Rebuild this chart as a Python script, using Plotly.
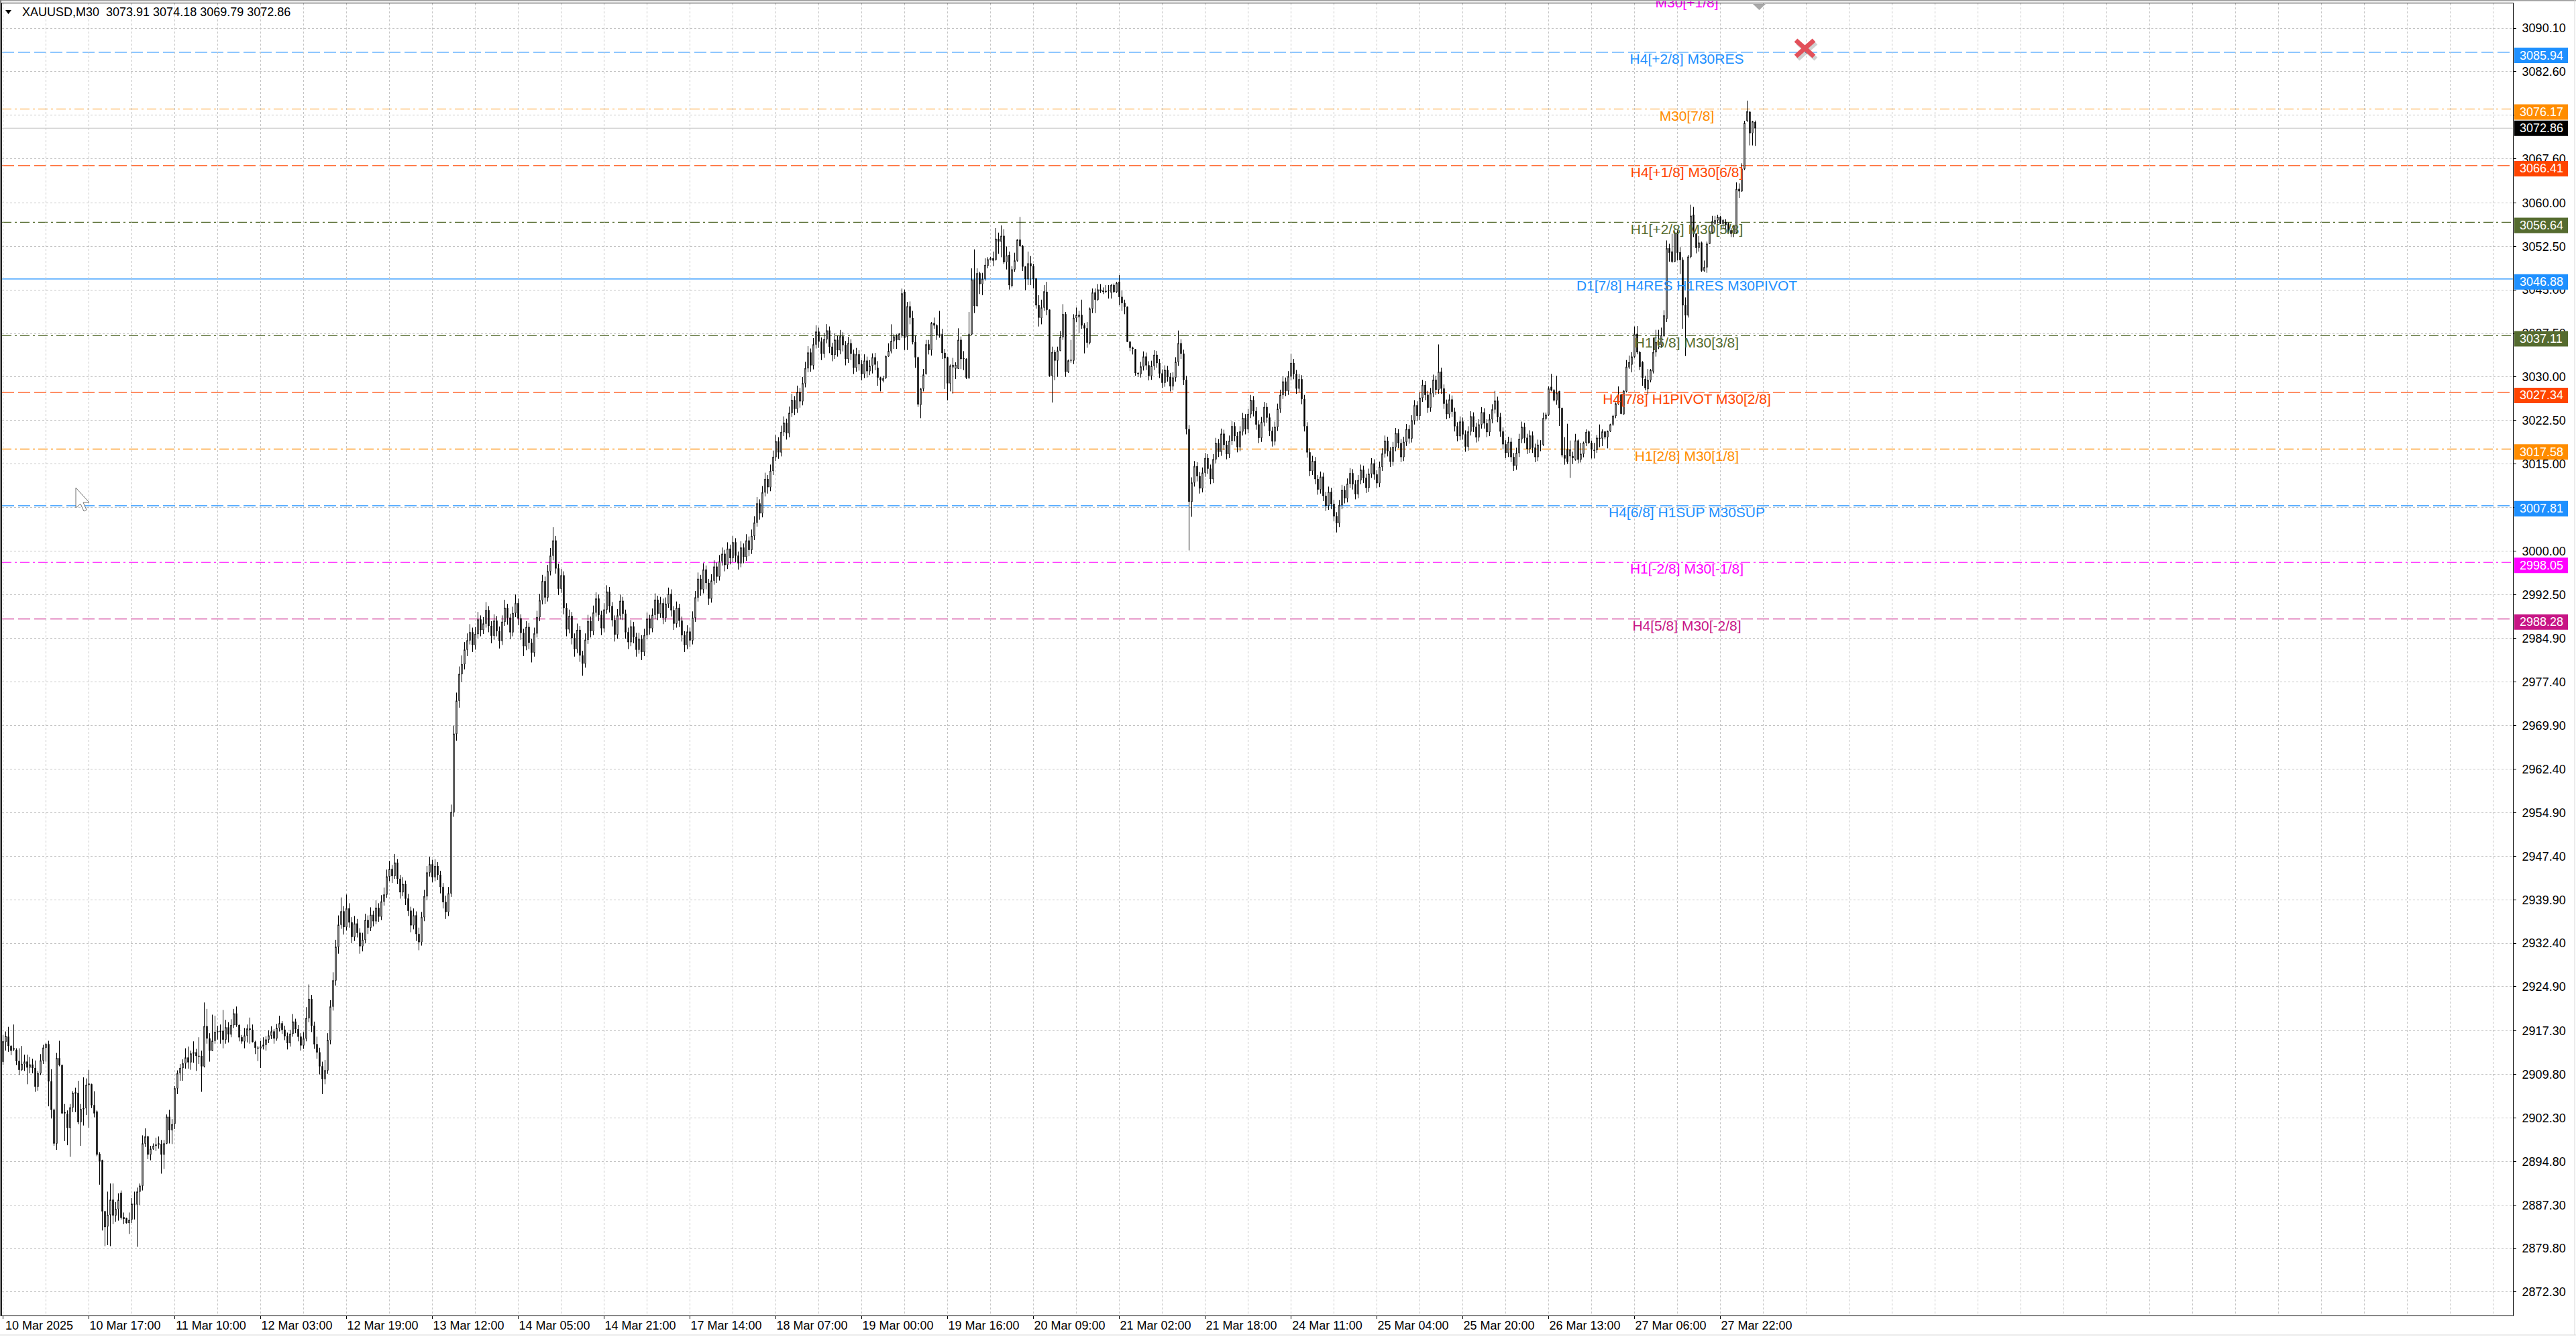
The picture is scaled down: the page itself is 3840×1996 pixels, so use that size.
import plotly.graph_objects as go

# ------------------------------------------------------------------ data
SYMBOL = "XAUUSD,M30"
LAST_OHLC = [3073.91, 3074.18, 3069.79, 3072.86]

time_labels = ["10 Mar 2025", "10 Mar 17:00", "11 Mar 10:00", "12 Mar 03:00",
               "12 Mar 19:00", "13 Mar 12:00", "14 Mar 05:00", "14 Mar 21:00",
               "17 Mar 14:00", "18 Mar 07:00", "19 Mar 00:00", "19 Mar 16:00",
               "20 Mar 09:00", "21 Mar 02:00", "21 Mar 18:00", "24 Mar 11:00",
               "25 Mar 04:00", "25 Mar 20:00", "26 Mar 13:00", "27 Mar 06:00",
               "27 Mar 22:00"]
time_label_bars = [0, 32, 64, 96, 128, 160, 192, 224, 256, 288, 320, 352, 384,
                   416, 448, 480, 512, 544, 576, 608, 640]

price_ticks = [3090.10, 3082.60, 3075.10, 3067.60, 3060.00, 3052.50, 3045.00,
               3037.50, 3030.00, 3022.50, 3015.00, 3007.50, 3000.00, 2992.50,
               2984.90, 2977.40, 2969.90, 2962.40, 2954.90, 2947.40, 2939.90,
               2932.40, 2924.90, 2917.30, 2909.80, 2902.30, 2894.80, 2887.30,
               2879.80, 2872.30]

level_prices = [3095.70, 3085.94, 3076.17, 3066.41, 3056.64, 3046.88, 3037.11,
                3027.34, 3017.58, 3007.81, 2998.05, 2988.28]
level_names = ["M30[+1/8]", "H4[+2/8] M30RES", "M30[7/8]", "H4[+1/8] M30[6/8]",
               "H1[+2/8] M30[5/8]", "D1[7/8] H4RES H1RES M30PIVOT",
               "H1[6/8] M30[3/8]", "H4[7/8] H1PIVOT M30[2/8]", "H1[2/8] M30[1/8]",
               "H4[6/8] H1SUP M30SUP", "H1[-2/8] M30[-1/8]", "H4[5/8] M30[-2/8]"]
level_kind = ["dashdot", "dash", "dashdot", "dash", "dashdot", "solid", "dashdot",
              "dash", "dashdot", "dash", "dashdot", "dash"]
level_colors = ["#FF00FF", "#1E90FF", "#FF8C00", "#FF4500", "#556B2F", "#1E90FF",
                "#556B2F", "#FF4500", "#FF8C00", "#1E90FF", "#FF00FF", "#C71585"]

# OHLC rows (open, high, low, close); each segment starts at the given bar index
bars_000_start = 0
bars_000 = [
    (2912.0, 2916.6, 2911.4, 2915.5), (2915.4, 2917.2, 2913.9, 2916.4),
    (2916.3, 2918.0, 2913.7, 2914.7), (2914.7, 2914.8, 2913.1, 2913.9),
    (2914.1, 2918.4, 2913.8, 2914.3), (2914.0, 2914.3, 2911.4, 2912.1),
    (2912.1, 2914.3, 2909.7, 2910.6), (2910.6, 2914.7, 2910.4, 2911.6),
    (2911.6, 2913.2, 2910.4, 2912.0), (2912.0, 2913.2, 2908.1, 2911.0),
    (2911.0, 2912.8, 2910.0, 2911.5), (2911.5, 2912.5, 2910.0, 2910.9),
    (2910.9, 2912.2, 2906.8, 2907.7), (2907.7, 2910.4, 2907.0, 2910.0),
    (2910.0, 2913.3, 2909.7, 2912.2), (2912.2, 2914.9, 2911.6, 2914.4),
    (2914.4, 2915.2, 2912.0, 2915.0), (2915.0, 2915.6, 2904.3, 2908.6),
    (2908.6, 2910.7, 2902.2, 2903.7), (2903.7, 2903.9, 2897.5, 2897.9),
    (2897.9, 2913.5, 2896.8, 2912.6), (2912.6, 2915.6, 2911.2, 2911.4),
    (2911.4, 2911.5, 2903.0, 2903.1), (2903.1, 2904.7, 2898.3, 2903.3),
    (2903.0, 2903.6, 2897.6, 2900.6), (2900.6, 2904.7, 2895.6, 2904.1),
    (2904.1, 2906.9, 2903.3, 2906.6), (2906.7, 2907.5, 2903.3, 2906.5),
    (2906.6, 2908.7, 2901.2, 2901.6), (2901.6, 2904.7, 2897.5, 2903.8),
    (2903.8, 2909.3, 2901.0, 2904.0), (2904.0, 2909.1, 2902.8, 2908.0),
    (2908.0, 2910.6, 2900.6, 2908.2), (2908.1, 2908.2, 2904.0, 2904.5),
    (2904.5, 2906.9, 2902.4, 2903.1), (2903.4, 2903.6, 2895.7, 2896.0),
    (2896.1, 2896.4, 2890.8, 2894.8), (2895.0, 2895.1, 2882.9, 2886.2),
    (2886.2, 2886.3, 2880.2, 2883.5), (2883.6, 2889.6, 2880.4, 2885.6),
    (2885.6, 2891.0, 2880.2, 2888.2), (2888.2, 2891.0, 2884.0, 2885.5),
    (2885.5, 2887.8, 2884.4, 2886.6), (2886.6, 2889.3, 2884.6, 2888.2),
    (2889.4, 2889.8, 2884.8, 2885.1), (2885.2, 2886.0, 2884.0, 2884.9),
    (2885.0, 2885.1, 2884.1, 2884.2), (2884.2, 2886.0, 2882.3, 2884.7),
    (2884.8, 2888.5, 2884.2, 2887.5), (2887.5, 2889.6, 2884.8, 2887.4),
    (2887.4, 2890.3, 2880.1, 2889.6), (2889.6, 2891.0, 2887.3, 2890.6),
    (2890.6, 2899.3, 2889.8, 2897.9), (2897.9, 2900.5, 2897.3, 2899.1),
    (2899.1, 2899.2, 2895.2, 2896.0), (2896.0, 2897.5, 2895.0, 2897.0),
    (2897.0, 2897.9, 2896.8, 2897.5), (2897.5, 2898.9, 2896.6, 2897.7),
    (2897.7, 2899.1, 2897.0, 2897.9), (2897.8, 2898.5, 2892.7, 2896.0),
    (2896.0, 2898.5, 2893.5, 2897.9), (2897.9, 2902.9, 2897.8, 2902.5),
    (2902.5, 2903.7, 2897.9, 2900.2), (2900.2, 2902.1, 2897.8, 2901.2),
    (2901.3, 2907.8, 2900.4, 2907.4), (2907.4, 2910.5, 2906.4, 2910.0),
    (2910.0, 2911.6, 2908.7, 2910.9), (2910.9, 2912.4, 2908.7, 2911.7),
    (2911.7, 2914.3, 2910.8, 2912.7), (2912.7, 2914.6, 2910.8, 2911.9),
    (2911.9, 2913.9, 2910.6, 2913.4), (2913.4, 2915.5, 2911.8, 2913.6),
    (2913.6, 2914.2, 2910.4, 2913.0), (2913.0, 2916.2, 2911.6, 2912.9),
    (2913.0, 2913.9, 2906.8, 2911.2), (2911.2, 2922.2, 2911.0, 2918.1),
    (2918.1, 2921.1, 2915.1, 2916.0), (2916.0, 2916.9, 2912.0, 2913.9),
    (2913.9, 2920.1, 2913.8, 2915.6), (2915.6, 2919.9, 2915.1, 2917.1),
    (2917.1, 2918.2, 2915.8, 2917.2), (2917.1, 2918.4, 2915.1, 2917.3),
    (2917.3, 2920.9, 2914.3, 2915.8), (2915.8, 2919.2, 2915.1, 2917.9),
    (2917.9, 2918.8, 2915.3, 2916.7), (2916.7, 2919.3, 2916.2, 2918.3),
    (2918.3, 2921.1, 2917.8, 2920.3), (2920.3, 2921.5, 2918.0, 2918.3),
    (2918.3, 2918.4, 2915.5, 2916.2), (2916.2, 2916.6, 2915.1, 2915.5),
    (2915.5, 2917.8, 2914.3, 2916.5), (2916.5, 2918.4, 2915.3, 2917.7),
    (2917.7, 2919.6, 2915.1, 2917.5), (2917.5, 2918.4, 2915.3, 2915.4),
    (2915.4, 2915.6, 2913.3, 2914.4), (2914.4, 2914.7, 2912.1, 2914.3),
    (2914.3, 2915.6, 2910.9, 2914.6), (2914.6, 2916.2, 2914.1, 2914.9),
    (2914.9, 2916.4, 2913.9, 2915.8),
]

bars_099_start = 99
bars_099 = [
    (2915.8, 2917.4, 2915.2, 2916.5), (2916.5, 2918.1, 2915.9, 2917.2),
    (2917.2, 2917.6, 2915.1, 2916.0), (2916.0, 2918.5, 2915.6, 2917.8),
    (2917.8, 2919.9, 2917.2, 2918.6), (2918.6, 2919.0, 2916.8, 2917.5),
    (2917.5, 2918.2, 2915.7, 2916.4), (2916.4, 2917.0, 2914.1, 2915.2),
    (2915.2, 2917.5, 2914.6, 2916.8), (2916.8, 2920.2, 2916.3, 2918.9),
    (2918.9, 2919.4, 2916.9, 2917.6), (2917.6, 2918.3, 2915.5, 2916.3),
    (2916.3, 2916.9, 2913.9, 2914.8), (2914.8, 2917.1, 2914.2, 2916.0),
    (2916.0, 2921.4, 2915.5, 2919.5), (2919.5, 2925.3, 2918.8, 2922.8),
    (2922.8, 2923.5, 2917.1, 2918.2), (2918.2, 2918.9, 2914.2, 2915.0),
    (2915.0, 2916.3, 2912.5, 2913.6), (2913.6, 2914.4, 2909.8, 2911.2),
    (2911.2, 2912.0, 2906.4, 2909.0), (2909.0, 2912.3, 2908.1, 2910.5),
    (2910.5, 2916.9, 2909.9, 2915.7), (2915.7, 2922.6, 2915.0, 2921.5),
    (2921.5, 2927.4, 2920.8, 2926.0), (2926.0, 2933.0, 2925.1, 2931.8),
    (2931.8, 2937.2, 2930.6, 2935.6), (2935.6, 2940.3, 2934.9, 2937.9),
    (2937.9, 2938.8, 2933.9, 2935.2), (2935.2, 2940.8, 2934.6, 2938.4),
    (2938.4, 2939.3, 2935.1, 2936.0), (2936.0, 2936.9, 2932.4, 2933.5),
    (2933.5, 2937.1, 2932.8, 2935.8), (2935.8, 2936.6, 2933.4, 2934.2),
    (2934.2, 2935.0, 2930.6, 2931.9), (2931.9, 2934.2, 2931.0, 2933.0),
    (2933.0, 2937.5, 2932.4, 2936.4), (2936.4, 2937.2, 2934.0, 2935.1),
    (2935.1, 2938.6, 2934.5, 2937.3), (2937.3, 2938.0, 2935.3, 2936.2),
    (2936.2, 2939.8, 2935.7, 2938.5), (2938.5, 2939.3, 2936.1, 2937.0),
    (2937.0, 2940.7, 2936.4, 2939.6), (2939.6, 2942.0, 2938.9, 2940.8),
    (2940.8, 2945.1, 2940.2, 2943.9), (2943.9, 2946.6, 2943.1, 2945.2),
    (2945.2, 2945.9, 2942.8, 2944.0), (2944.0, 2947.8, 2943.5, 2946.3),
    (2946.3, 2946.9, 2942.6, 2943.5), (2943.5, 2944.2, 2940.1, 2941.2),
    (2941.2, 2943.8, 2940.5, 2942.6), (2942.6, 2943.2, 2939.0, 2940.1),
    (2940.1, 2940.9, 2937.1, 2938.0), (2938.0, 2938.7, 2934.3, 2935.5),
    (2935.5, 2938.4, 2934.8, 2937.2), (2937.2, 2937.9, 2932.8, 2934.0),
    (2934.0, 2935.1, 2931.2, 2932.6), (2932.6, 2937.8, 2932.0, 2936.9),
    (2936.9, 2941.6, 2936.2, 2940.5), (2940.5, 2945.7, 2939.8, 2944.6),
    (2944.6, 2947.3, 2943.9, 2946.0), (2946.0, 2946.8, 2942.9, 2943.8),
    (2943.8, 2946.9, 2943.1, 2945.7), (2945.7, 2946.4, 2943.3, 2944.2),
    (2944.2, 2944.9, 2941.0, 2942.1), (2942.1, 2942.8, 2938.4, 2939.5),
    (2939.5, 2940.6, 2936.6, 2937.8), (2937.8, 2942.1, 2937.1, 2941.0),
    (2941.0, 2956.3, 2940.4, 2955.0), (2955.0, 2969.9, 2954.2, 2968.5),
    (2968.5, 2975.6, 2967.3, 2974.2), (2974.2, 2980.1, 2973.0, 2978.8),
    (2978.8, 2982.0, 2977.4, 2980.5), (2980.5, 2984.3, 2979.6, 2983.0),
    (2983.0, 2985.8, 2981.9, 2984.6), (2984.6, 2987.4, 2983.9, 2986.0),
    (2986.0, 2986.8, 2982.6, 2983.8), (2983.8, 2986.9, 2983.0, 2985.7),
    (2985.7, 2989.5, 2985.0, 2988.2), (2988.2, 2988.9, 2985.3, 2986.4),
    (2986.4, 2988.6, 2985.7, 2987.5), (2987.5, 2991.2, 2986.8, 2989.8),
    (2989.8, 2990.5, 2986.0, 2987.1), (2987.1, 2987.9, 2984.1, 2985.4),
    (2985.4, 2989.1, 2984.7, 2988.0), (2988.0, 2988.8, 2985.3, 2986.2),
    (2986.2, 2987.0, 2983.2, 2984.5), (2984.5, 2988.9, 2983.8, 2987.8),
    (2987.8, 2991.6, 2987.1, 2990.2), (2990.2, 2990.9, 2987.3, 2988.5),
    (2988.5, 2989.2, 2984.8, 2986.0), (2986.0, 2990.4, 2985.3, 2989.3),
    (2989.3, 2992.5, 2988.6, 2991.0), (2991.0, 2991.8, 2987.2, 2988.4),
    (2988.4, 2989.1, 2984.7, 2985.9), (2985.9, 2986.6, 2981.9, 2983.6),
    (2983.6, 2987.9, 2982.9, 2986.9), (2986.9, 2987.6, 2983.1, 2984.2),
    (2984.2, 2984.9, 2980.8, 2982.5), (2982.5, 2986.8, 2981.8, 2985.8),
    (2985.8, 2989.7, 2985.1, 2988.6), (2988.6, 2992.6, 2987.9, 2991.5),
    (2991.5, 2995.9, 2990.8, 2994.8), (2994.8, 2995.6, 2990.9, 2992.0),
    (2992.0, 2997.6, 2991.3, 2996.5), (2996.5, 3000.5, 2995.8, 2999.2),
    (2999.2, 3004.1, 2998.4, 3001.8), (3001.8, 3002.6, 2996.1, 2997.0),
    (2997.0, 2997.8, 2992.4, 2993.5), (2993.5, 2996.9, 2992.8, 2995.8),
    (2995.8, 2996.5, 2989.1, 2990.2), (2990.2, 2991.0, 2985.3, 2986.5),
    (2986.5, 2989.9, 2985.8, 2988.8), (2988.8, 2989.5, 2983.9, 2985.0),
    (2985.0, 2985.8, 2981.8, 2983.1), (2983.1, 2987.5, 2982.4, 2986.4),
    (2986.4, 2987.1, 2980.9, 2982.0), (2982.0, 2982.8, 2978.5, 2980.6),
    (2980.6, 2985.8, 2979.9, 2984.7), (2984.7, 2989.0, 2984.0, 2987.9),
    (2987.9, 2988.7, 2985.1, 2986.2), (2986.2, 2990.6, 2985.5, 2989.4),
    (2989.4, 2992.9, 2988.7, 2991.8), (2991.8, 2992.5, 2987.9, 2989.0),
    (2989.0, 2989.7, 2985.5, 2986.7), (2986.7, 2991.0, 2986.0, 2989.9),
    (2989.9, 2994.1, 2989.2, 2993.0), (2993.0, 2993.8, 2989.4, 2990.5),
    (2990.5, 2991.2, 2987.0, 2988.1), (2988.1, 2988.9, 2984.4, 2985.6),
    (2985.6, 2990.0, 2984.9, 2988.9), (2988.9, 2992.5, 2988.2, 2991.4),
    (2991.4, 2992.1, 2988.1, 2989.2), (2989.2, 2989.9, 2984.9, 2986.0),
    (2986.0, 2986.8, 2983.1, 2984.3), (2984.3, 2988.1, 2983.6, 2987.0),
    (2987.0, 2987.8, 2984.1, 2985.2), (2985.2, 2985.9, 2981.8, 2983.0),
    (2983.0, 2985.9, 2982.3, 2984.8), (2984.8, 2985.5, 2981.2, 2982.6),
    (2982.6, 2986.6, 2981.9, 2985.5), (2985.5, 2989.4, 2984.8, 2988.3),
    (2988.3, 2989.0, 2985.6, 2986.7), (2986.7, 2990.1, 2986.0, 2989.0),
    (2989.0, 2992.7, 2988.3, 2991.6), (2991.6, 2992.3, 2988.1, 2989.2),
    (2989.2, 2992.1, 2988.5, 2991.0), (2991.0, 2991.8, 2987.4, 2988.5),
    (2988.5, 2992.0, 2987.8, 2990.9), (2990.9, 2993.7, 2990.2, 2992.6),
    (2992.6, 2993.4, 2988.7, 2989.8), (2989.8, 2990.5, 2986.4, 2987.5),
    (2987.5, 2991.3, 2986.8, 2990.2), (2990.2, 2990.9, 2986.9, 2988.0),
    (2988.0, 2988.7, 2984.4, 2985.5), (2985.5, 2986.2, 2982.6, 2983.8),
    (2983.8, 2987.2, 2983.1, 2986.1), (2986.1, 2986.8, 2983.5, 2984.6),
    (2984.6, 2989.6, 2983.9, 2988.5), (2988.5, 2993.1, 2987.8, 2992.0),
    (2992.0, 2996.3, 2991.3, 2995.2), (2995.2, 2995.9, 2992.3, 2993.4),
    (2993.4, 2997.9, 2992.7, 2996.8), (2996.8, 2997.5, 2993.4, 2994.5),
    (2994.5, 2995.2, 2990.7, 2991.8), (2991.8, 2996.0, 2991.1, 2994.9),
    (2994.9, 2998.4, 2994.2, 2997.3), (2997.3, 2998.0, 2994.5, 2995.6),
    (2995.6, 2999.3, 2994.9, 2998.2), (2998.2, 3000.6, 2997.5, 2999.5),
    (2999.5, 3000.2, 2996.5, 2997.6), (2997.6, 3001.5, 2996.9, 3000.4),
    (3000.4, 3001.1, 2997.7, 2998.8), (2998.8, 3002.6, 2998.1, 3001.5),
    (3001.5, 3002.2, 2998.1, 2999.2), (2999.2, 2999.9, 2996.8, 2997.9),
    (2997.9, 3001.7, 2997.2, 3000.6), (3000.6, 3001.3, 2997.9, 2999.0),
    (2999.0, 3002.9, 2998.3, 3001.8), (3001.8, 3002.5, 2999.1, 3000.2),
    (3000.2, 3003.7, 2999.5, 3002.6), (3002.6, 3006.0, 3001.9, 3004.9),
    (3004.9, 3009.3, 3004.2, 3008.2), (3008.2, 3008.9, 3005.4, 3006.5),
    (3006.5, 3011.2, 3005.8, 3010.1), (3010.1, 3013.5, 3009.4, 3012.4),
    (3012.4, 3013.1, 3009.9, 3011.0), (3011.0, 3014.9, 3010.3, 3013.8),
    (3013.8, 3017.3, 3013.1, 3016.2), (3016.2, 3020.0, 3015.5, 3018.9),
    (3018.9, 3019.6, 3015.9, 3017.0), (3017.0, 3021.6, 3016.3, 3020.5),
    (3020.5, 3023.2, 3019.8, 3022.1), (3022.1, 3022.8, 3019.2, 3020.3),
    (3020.3, 3024.9, 3019.6, 3023.8), (3023.8, 3027.1, 3023.1, 3026.0),
    (3026.0, 3026.7, 3023.4, 3024.5), (3024.5, 3028.5, 3023.8, 3027.4),
    (3027.4, 3028.1, 3024.7, 3025.8), (3025.8, 3030.0, 3025.1, 3028.9),
    (3028.9, 3032.6, 3028.2, 3031.5), (3031.5, 3035.3, 3030.8, 3034.2),
    (3034.2, 3034.9, 3030.9, 3032.0), (3032.0, 3036.7, 3031.3, 3035.6),
    (3035.6, 3038.9, 3034.9, 3037.8), (3037.8, 3038.5, 3035.0, 3036.1),
    (3036.1, 3036.8, 3032.9, 3034.0), (3034.0, 3037.6, 3033.3, 3036.5),
    (3036.5, 3039.1, 3035.8, 3038.0), (3038.0, 3038.7, 3034.1, 3035.2),
    (3035.2, 3035.9, 3032.7, 3033.8), (3033.8, 3037.5, 3033.1, 3036.4),
    (3036.4, 3037.1, 3033.5, 3034.6), (3034.6, 3038.1, 3033.9, 3037.0),
    (3037.0, 3037.7, 3034.4, 3035.5), (3035.5, 3036.2, 3032.0, 3033.1),
    (3033.1, 3036.9, 3032.4, 3035.8), (3035.8, 3036.5, 3032.9, 3034.0),
    (3034.0, 3034.7, 3030.5, 3031.6), (3031.6, 3035.0, 3030.9, 3033.9),
    (3033.9, 3034.6, 3031.1, 3032.2), (3032.2, 3032.9, 3029.4, 3030.5),
    (3030.5, 3033.9, 3029.8, 3032.8), (3032.8, 3033.5, 3029.9, 3031.0),
    (3031.0, 3032.9, 3030.3, 3031.9),
]

bars_324_start = 324
bars_324 = [
    (3031.94, 3034.06, 3030.60, 3033.37), (3033.37, 3034.14, 3031.17, 3032.14),
    (3031.56, 3032.72, 3028.48, 3029.90), (3029.90, 3030.02, 3027.51, 3029.44),
    (3029.36, 3030.21, 3029.05, 3029.75), (3029.83, 3033.68, 3029.63, 3033.56),
    (3033.56, 3035.80, 3033.48, 3034.45), (3034.45, 3039.07, 3034.06, 3036.18),
    (3036.18, 3037.34, 3034.83, 3036.96), (3037.07, 3037.34, 3034.83, 3036.38),
    (3036.38, 3037.53, 3036.38, 3037.46), (3037.15, 3045.24, 3036.76, 3044.39),
    (3044.66, 3045.05, 3034.64, 3036.76), (3036.96, 3042.93, 3034.64, 3042.16),
    (3042.16, 3043.01, 3039.07, 3040.23), (3040.15, 3041.39, 3035.61, 3035.99),
    (3035.99, 3037.15, 3031.56, 3033.37), (3033.37, 3033.49, 3024.82, 3025.28),
    (3025.20, 3028.09, 3022.89, 3027.98), (3027.98, 3031.37, 3027.51, 3030.40),
    (3030.52, 3036.38, 3030.40, 3035.61), (3035.61, 3036.38, 3033.87, 3034.64),
    (3034.64, 3039.46, 3033.68, 3039.27), (3039.27, 3040.23, 3038.30, 3038.88),
    (3038.88, 3039.07, 3036.38, 3037.15), (3037.34, 3041.39, 3036.76, 3037.15),
    (3037.34, 3038.30, 3033.10, 3034.14), (3034.14, 3034.83, 3027.90, 3033.22),
    (3033.37, 3033.49, 3025.97, 3028.90), (3028.90, 3032.14, 3027.51, 3031.94),
    (3031.68, 3033.29, 3027.13, 3032.06), (3031.44, 3032.52, 3029.63, 3032.06),
    (3031.44, 3038.38, 3031.37, 3036.38), (3036.38, 3036.96, 3031.37, 3033.10),
    (3033.10, 3034.45, 3031.17, 3033.22), (3033.10, 3033.20, 3029.63, 3029.90),
    (3029.83, 3041.19, 3029.63, 3037.34), (3037.34, 3048.71, 3037.20, 3046.78),
    (3046.78, 3051.98, 3041.00, 3042.23), (3042.23, 3048.71, 3042.16, 3047.86),
    (3047.86, 3048.13, 3044.28, 3046.01), (3046.01, 3047.94, 3044.08, 3046.90),
    (3046.90, 3050.44, 3046.60, 3049.29), (3049.17, 3050.63, 3048.71, 3050.25),
    (3050.17, 3050.71, 3050.06, 3050.44), (3050.44, 3051.60, 3049.09, 3050.06),
    (3050.17, 3055.65, 3050.06, 3053.80), (3053.80, 3054.87, 3051.21, 3053.33),
    (3053.33, 3056.11, 3050.63, 3054.30), (3054.30, 3055.45, 3049.48, 3049.79),
    (3049.79, 3052.48, 3048.52, 3050.94), (3051.02, 3051.60, 3045.05, 3045.82),
    (3045.70, 3049.09, 3045.43, 3048.52), (3048.52, 3051.41, 3048.13, 3050.06),
    (3050.06, 3053.72, 3049.86, 3053.64), (3053.64, 3057.57, 3052.50, 3052.56),
    (3052.56, 3052.76, 3048.25, 3049.02), (3049.02, 3049.09, 3044.93, 3046.86),
    (3046.86, 3051.60, 3045.82, 3049.56), (3049.56, 3050.83, 3045.82, 3049.09),
    (3049.09, 3049.48, 3045.24, 3046.86), (3046.97, 3046.97, 3041.77, 3042.35),
    (3042.35, 3044.08, 3038.69, 3040.23), (3040.15, 3043.31, 3039.07, 3041.96),
    (3041.96, 3045.82, 3041.39, 3044.74), (3044.66, 3046.40, 3040.62, 3041.58),
    (3041.58, 3041.58, 3030.02, 3030.21), (3030.21, 3035.22, 3025.59, 3034.26),
    (3034.26, 3034.64, 3029.44, 3032.83), (3032.83, 3035.22, 3030.02, 3034.53),
    (3034.53, 3037.92, 3034.45, 3036.88), (3036.88, 3042.54, 3036.38, 3040.81),
    (3040.81, 3041.19, 3030.02, 3030.90), (3030.90, 3032.99, 3030.67, 3032.83),
    (3032.83, 3036.38, 3032.45, 3032.91), (3032.83, 3040.81, 3032.21, 3040.15),
    (3040.15, 3041.96, 3039.46, 3040.69), (3040.31, 3041.39, 3037.53, 3040.69),
    (3040.69, 3043.31, 3038.30, 3038.88), (3038.88, 3039.27, 3034.06, 3038.38),
    (3038.38, 3039.46, 3035.03, 3035.91), (3035.91, 3041.96, 3035.61, 3041.77),
    (3041.77, 3045.24, 3041.00, 3044.55), (3044.55, 3045.24, 3041.00, 3043.31),
    (3043.31, 3046.01, 3043.12, 3045.05), (3045.05, 3046.01, 3044.47, 3044.78),
    (3044.86, 3045.43, 3044.28, 3044.66), (3044.66, 3045.82, 3044.47, 3044.78),
    (3044.78, 3045.82, 3043.51, 3044.86), (3044.55, 3046.01, 3043.51, 3045.82),
    (3045.82, 3046.09, 3044.47, 3044.66), (3044.66, 3046.40, 3044.47, 3046.20),
    (3046.40, 3047.55, 3042.35, 3043.78), (3043.78, 3044.86, 3041.39, 3042.74),
    (3042.74, 3043.31, 3040.81, 3042.08), (3042.08, 3042.16, 3035.99, 3036.07),
    (3036.07, 3036.10, 3034.45, 3035.03), (3035.03, 3035.22, 3033.87, 3034.83),
    (3034.76, 3034.83, 3030.21, 3030.67), (3030.67, 3030.79, 3030.02, 3030.52),
]

bars_424_start = 424
bars_424 = [
    (3030.5, 3032.6, 3029.9, 3031.8), (3031.8, 3034.4, 3031.1, 3033.5),
    (3033.5, 3034.2, 3031.2, 3032.0), (3032.0, 3032.7, 3029.4, 3030.2),
    (3030.2, 3032.8, 3029.5, 3031.9), (3031.9, 3034.6, 3031.2, 3033.8),
    (3033.8, 3034.5, 3031.6, 3032.4), (3032.4, 3033.1, 3029.8, 3030.6),
    (3030.6, 3031.3, 3028.1, 3029.0), (3029.0, 3032.0, 3028.3, 3031.2),
    (3031.2, 3031.9, 3029.2, 3030.0), (3030.0, 3030.7, 3027.5, 3028.4),
    (3028.4, 3030.8, 3027.7, 3029.9), (3029.9, 3033.4, 3029.2, 3032.6),
    (3032.6, 3038.0, 3031.9, 3035.8), (3035.8, 3036.5, 3033.1, 3034.0),
    (3034.0, 3034.7, 3028.6, 3029.5), (3029.5, 3030.2, 3020.1, 3021.0),
    (3021.0, 3021.7, 3000.1, 3008.5), (3008.5, 3012.7, 3005.9, 3011.8),
    (3011.8, 3015.5, 3011.1, 3014.6), (3014.6, 3015.3, 3012.0, 3012.9),
    (3012.9, 3013.6, 3009.9, 3010.8), (3010.8, 3014.4, 3010.1, 3013.5),
    (3013.5, 3016.9, 3012.8, 3016.0), (3016.0, 3016.7, 3013.3, 3014.2),
    (3014.2, 3014.9, 3011.5, 3012.4), (3012.4, 3016.7, 3011.7, 3015.8),
    (3015.8, 3019.5, 3015.1, 3018.6), (3018.6, 3019.3, 3016.2, 3017.1),
    (3017.1, 3021.1, 3016.4, 3020.2), (3020.2, 3020.9, 3017.4, 3018.3),
    (3018.3, 3019.0, 3015.8, 3016.7), (3016.7, 3019.9, 3016.0, 3019.0),
    (3019.0, 3022.4, 3018.3, 3021.5), (3021.5, 3022.2, 3018.9, 3019.8),
    (3019.8, 3020.5, 3017.0, 3017.9), (3017.9, 3021.5, 3017.2, 3020.6),
    (3020.6, 3023.8, 3019.9, 3022.9), (3022.9, 3023.6, 3020.1, 3021.0),
    (3021.0, 3024.5, 3020.3, 3023.6), (3023.6, 3026.9, 3022.9, 3026.0),
    (3026.0, 3026.7, 3023.2, 3024.1), (3024.1, 3024.8, 3020.9, 3021.8),
    (3021.8, 3022.5, 3018.6, 3019.5), (3019.5, 3023.1, 3018.8, 3022.2),
    (3022.2, 3025.7, 3021.5, 3024.8), (3024.8, 3025.5, 3022.1, 3023.0),
    (3023.0, 3023.7, 3019.8, 3020.7), (3020.7, 3021.4, 3018.0, 3018.9),
    (3018.9, 3022.3, 3018.2, 3021.4), (3021.4, 3025.4, 3020.7, 3024.5),
    (3024.5, 3027.8, 3023.8, 3026.9), (3026.9, 3030.1, 3026.2, 3029.2),
    (3029.2, 3029.9, 3026.7, 3027.6), (3027.6, 3031.0, 3026.9, 3030.1),
    (3030.1, 3034.0, 3029.4, 3032.4), (3032.4, 3033.1, 3029.6, 3030.5),
    (3030.5, 3031.2, 3027.1, 3028.0), (3028.0, 3030.5, 3027.3, 3029.6),
    (3029.6, 3030.3, 3025.3, 3026.2), (3026.2, 3026.9, 3020.6, 3021.5),
    (3021.5, 3022.2, 3016.1, 3017.0), (3017.0, 3017.7, 3012.9, 3013.8),
    (3013.8, 3016.4, 3013.1, 3015.5), (3015.5, 3016.2, 3011.5, 3012.4),
    (3012.4, 3013.1, 3009.7, 3010.6), (3010.6, 3013.7, 3009.9, 3012.8),
    (3012.8, 3013.5, 3008.6, 3009.5), (3009.5, 3010.2, 3006.9, 3007.8),
    (3007.8, 3011.1, 3007.1, 3010.2), (3010.2, 3010.9, 3007.2, 3008.1),
    (3008.1, 3008.8, 3005.1, 3006.0), (3006.0, 3006.7, 3003.2, 3004.8),
    (3004.8, 3008.8, 3004.1, 3007.9), (3007.9, 3011.4, 3007.2, 3010.5),
    (3010.5, 3011.2, 3008.2, 3009.1), (3009.1, 3012.5, 3008.4, 3011.6),
    (3011.6, 3014.3, 3010.9, 3013.4), (3013.4, 3014.1, 3010.6, 3011.5),
    (3011.5, 3012.2, 3008.9, 3009.8), (3009.8, 3013.1, 3009.1, 3012.2),
    (3012.2, 3014.9, 3011.5, 3014.0), (3014.0, 3014.7, 3011.7, 3012.6),
    (3012.6, 3013.3, 3010.0, 3010.9), (3010.9, 3014.2, 3010.2, 3013.3),
    (3013.3, 3016.0, 3012.6, 3015.1), (3015.1, 3015.8, 3012.3, 3013.2),
    (3013.2, 3013.9, 3010.8, 3011.7), (3011.7, 3015.4, 3011.0, 3014.5),
    (3014.5, 3017.7, 3013.8, 3016.8), (3016.8, 3019.9, 3016.1, 3019.0),
    (3019.0, 3019.7, 3016.3, 3017.2), (3017.2, 3017.9, 3014.5, 3015.4),
    (3015.4, 3018.8, 3014.7, 3017.9), (3017.9, 3021.2, 3017.2, 3020.3),
    (3020.3, 3021.0, 3017.7, 3018.6), (3018.6, 3019.3, 3015.3, 3016.2),
    (3016.2, 3019.7, 3015.5, 3018.8), (3018.8, 3021.9, 3018.1, 3021.0),
    (3021.0, 3021.7, 3018.5, 3019.4), (3019.4, 3023.4, 3018.7, 3022.5),
    (3022.5, 3026.0, 3021.8, 3025.1), (3025.1, 3025.8, 3022.4, 3023.3),
    (3023.3, 3027.3, 3022.6, 3026.4), (3026.4, 3029.5, 3025.7, 3028.6),
    (3028.6, 3029.3, 3026.0, 3026.9), (3026.9, 3027.6, 3023.8, 3024.7),
    (3024.7, 3028.1, 3024.0, 3027.2), (3027.2, 3030.4, 3026.5, 3029.5),
    (3029.5, 3030.2, 3026.9, 3027.8), (3027.8, 3035.6, 3027.1, 3030.9),
    (3030.9, 3031.6, 3027.1, 3028.0), (3028.0, 3028.7, 3024.5, 3025.4),
    (3025.4, 3026.1, 3022.7, 3023.6), (3023.6, 3027.0, 3022.9, 3026.1),
    (3026.1, 3026.8, 3023.1, 3024.0), (3024.0, 3024.7, 3020.6, 3021.5),
    (3021.5, 3022.2, 3018.9, 3019.8), (3019.8, 3023.2, 3019.1, 3022.3),
    (3022.3, 3023.0, 3019.2, 3020.1), (3020.1, 3020.8, 3017.1, 3018.0),
    (3018.0, 3021.5, 3017.3, 3020.6), (3020.6, 3024.1, 3019.9, 3023.2),
    (3023.2, 3023.9, 3020.5, 3021.4), (3021.4, 3022.1, 3018.7, 3019.6),
    (3019.6, 3022.7, 3018.9, 3021.8), (3021.8, 3024.8, 3021.1, 3023.9),
    (3023.9, 3024.6, 3021.1, 3022.0), (3022.0, 3022.7, 3019.6, 3020.5),
    (3020.5, 3023.6, 3019.8, 3022.7), (3022.7, 3025.3, 3022.0, 3024.4),
    (3024.4, 3027.6, 3023.7, 3025.9), (3025.9, 3026.6, 3022.2, 3023.1),
    (3023.1, 3023.8, 3019.7, 3020.6), (3020.6, 3021.3, 3017.5, 3018.4),
    (3018.4, 3019.1, 3016.0, 3016.9), (3016.9, 3019.7, 3016.2, 3018.8),
    (3018.8, 3019.5, 3015.3, 3016.2), (3016.2, 3016.9, 3013.8, 3014.7),
    (3014.7, 3017.8, 3014.0, 3016.9), (3016.9, 3020.2, 3016.2, 3019.3),
    (3019.3, 3022.3, 3018.6, 3021.4), (3021.4, 3022.1, 3018.6, 3019.5),
    (3019.5, 3020.2, 3016.7, 3017.6), (3017.6, 3020.8, 3016.9, 3019.9),
    (3019.9, 3020.6, 3016.9, 3017.8), (3017.8, 3018.5, 3015.3, 3016.2),
    (3016.2, 3019.2, 3015.5, 3018.3), (3018.3, 3019.1, 3017.2, 3018.3),
]

bars_574_start = 574
bars_574 = [
    (3018.34, 3023.85, 3018.07, 3022.89), (3022.81, 3023.85, 3022.51, 3023.47),
    (3023.47, 3028.36, 3023.28, 3028.00), (3028.29, 3030.52, 3027.52, 3027.71),
    (3027.71, 3027.90, 3025.78, 3025.97), (3025.97, 3030.21, 3025.20, 3027.21),
    (3027.52, 3027.60, 3021.54, 3024.63), (3024.63, 3024.70, 3016.15, 3016.53),
    (3016.53, 3019.62, 3014.88, 3015.95), (3017.50, 3021.93, 3014.99, 3015.38),
    (3016.34, 3019.04, 3012.60, 3017.50), (3016.34, 3017.11, 3014.99, 3016.03),
    (3015.76, 3020.19, 3015.57, 3019.04), (3019.04, 3019.23, 3015.11, 3015.76),
    (3015.76, 3018.65, 3015.26, 3016.73), (3016.73, 3018.85, 3016.15, 3018.65),
    (3018.65, 3020.96, 3018.07, 3020.50), (3020.58, 3020.77, 3018.46, 3018.65),
    (3018.65, 3019.04, 3015.95, 3017.50), (3017.42, 3018.65, 3015.95, 3017.30),
    (3017.42, 3020.00, 3016.92, 3019.50), (3019.50, 3021.81, 3017.88, 3019.35),
    (3019.42, 3020.96, 3018.07, 3020.58), (3020.58, 3020.66, 3019.23, 3019.62),
    (3019.62, 3020.77, 3017.69, 3020.66), (3020.66, 3021.93, 3020.50, 3021.81),
    (3021.81, 3023.47, 3021.54, 3023.28), (3023.28, 3025.59, 3022.89, 3025.40),
    (3025.40, 3028.36, 3025.20, 3026.94), (3026.94, 3027.05, 3023.59, 3023.66),
    (3023.59, 3027.71, 3023.47, 3027.59), (3027.52, 3032.91, 3027.32, 3031.75),
    (3031.67, 3033.68, 3031.37, 3032.53), (3032.14, 3034.26, 3030.79, 3033.49),
    (3033.49, 3038.70, 3033.30, 3037.40), (3037.40, 3038.77, 3033.90, 3034.26),
    (3034.26, 3034.45, 3031.18, 3031.75), (3032.53, 3032.72, 3028.48, 3029.83),
    (3029.63, 3030.21, 3027.71, 3028.09), (3027.90, 3031.37, 3026.94, 3029.44),
    (3029.44, 3031.37, 3029.06, 3031.18), (3030.98, 3036.76, 3030.60, 3034.26),
    (3034.26, 3038.12, 3033.50, 3036.00), (3036.00, 3038.12, 3034.80, 3035.50),
    (3035.50, 3038.50, 3035.00, 3037.20), (3037.16, 3041.50, 3036.90, 3040.60),
    (3040.04, 3053.52, 3039.46, 3052.17), (3052.17, 3052.95, 3049.86, 3051.40),
    (3051.60, 3054.68, 3049.67, 3049.86), (3049.86, 3055.07, 3049.79, 3054.87),
    (3054.87, 3055.26, 3050.06, 3051.40), (3051.48, 3052.37, 3047.74, 3050.17),
    (3050.17, 3050.63, 3038.30, 3042.35), (3042.35, 3043.70, 3033.60, 3040.61),
    (3040.61, 3051.02, 3040.23, 3050.71), (3050.71, 3059.69, 3050.44, 3057.76),
    (3057.95, 3059.30, 3054.10, 3054.68), (3054.68, 3054.80, 3051.30, 3052.25),
    (3052.25, 3054.30, 3051.60, 3053.14), (3053.14, 3053.33, 3048.13, 3048.32),
    (3048.32, 3050.06, 3048.13, 3048.90), (3048.90, 3053.33, 3047.94, 3052.95),
    (3052.95, 3055.10, 3052.90, 3055.07), (3054.87, 3057.76, 3054.68, 3056.80),
    (3056.41, 3057.76, 3056.22, 3056.99), (3056.99, 3057.95, 3056.41, 3057.57),
    (3057.57, 3057.76, 3056.35, 3056.41), (3056.41, 3057.18, 3055.64, 3056.99),
    (3056.68, 3057.18, 3054.87, 3056.22), (3056.41, 3056.61, 3054.68, 3054.87),
    (3055.26, 3055.64, 3054.10, 3054.68), (3054.68, 3056.22, 3054.10, 3056.03),
    (3054.87, 3063.54, 3054.68, 3062.39), (3062.39, 3063.35, 3060.85, 3062.00),
    (3062.00, 3066.82, 3061.90, 3065.86), (3065.86, 3074.14, 3065.66, 3073.76),
    (3074.14, 3077.61, 3073.95, 3075.76), (3075.68, 3075.75, 3069.90, 3072.02),
    (3072.02, 3074.14, 3069.90, 3074.03), (3073.91, 3074.18, 3069.79, 3072.86),
]

segments = [(bars_000_start, bars_000), (bars_099_start, bars_099),
            (bars_324_start, bars_324), (bars_424_start, bars_424),
            (bars_574_start, bars_574)]

# ------------------------------------------------------------------ layout constants
W, H = 3840, 1996
PL, PR, PT, PB = 3, 3746, 5, 1961          # plot area in pixels
PW, PH = PR - PL, PB - PT
X_RANGE = [-0.375, 935.375]                  # 4 px per bar
Y_RANGE = [2868.25, 3094.38]
FONT = "Liberation Sans, Arial, sans-serif"
GRID = "#C4C4C4"
LABEL_X = 627.5                              # bar position of the level captions
DASHES = {"dash": "18px,6px", "dashdot": "14px,5px,3px,5px", "solid": "solid"}


def px(fx):
    return (fx - PL) / PW


def py(fy):
    return (PB - fy) / PH


price_per_px = (Y_RANGE[1] - Y_RANGE[0]) / PH

xs, op, hi, lo, cl = [], [], [], [], []
for start, rows in segments:
    for k, (o_, h_, l_, c_) in enumerate(rows):
        xs.append(start + k)
        op.append(o_)
        hi.append(h_)
        lo.append(l_)
        cl.append(c_)

fig = go.Figure()

# level captions (drawn beneath the candles)
fig.add_trace(go.Scatter(
    x=[LABEL_X] * len(level_prices),
    y=[p - 12 * price_per_px for p in level_prices],
    text=level_names, mode="text", textposition="middle center",
    textfont=dict(family=FONT, size=21, color=level_colors),
    cliponaxis=False, hoverinfo="skip", showlegend=False))

fig.add_trace(go.Candlestick(
    x=xs, open=op, high=hi, low=lo, close=cl,
    increasing=dict(line=dict(color="black", width=1), fillcolor="white"),
    decreasing=dict(line=dict(color="black", width=1), fillcolor="black"),
    whiskerwidth=0, hoverinfo="skip", showlegend=False))

shapes = []
for p, col, kind in zip(level_prices, level_colors, level_kind):
    shapes.append(dict(type="line", xref="paper", yref="y", x0=0, x1=1, y0=p, y1=p,
                       line=dict(color=col, width=1.2, dash=DASHES[kind]), layer="between"))
shapes.append(dict(type="line", xref="paper", yref="y", x0=0, x1=1,
                   y0=LAST_OHLC[3], y1=LAST_OHLC[3],
                   line=dict(color="#C0C0C0", width=1), layer="between"))

annotations = []
for p, col in zip(level_prices, level_colors):
    if not (Y_RANGE[0] < p < Y_RANGE[1]):
        continue
    shapes.append(dict(type="rect", xref="paper", yref="y", x0=px(3748), x1=px(3828),
                       ysizemode="pixel", yanchor=p, y0=-16, y1=7,
                       fillcolor=col, line=dict(width=0), layer="above"))
    annotations.append(dict(xref="paper", yref="y", x=px(3788), y=p, yshift=-4.5,
                            text=f"{p:.2f}", showarrow=False, xanchor="center",
                            yanchor="middle", font=dict(family=FONT, size=18, color="white")))
shapes.append(dict(type="rect", xref="paper", yref="y", x0=px(3748), x1=px(3828),
                   ysizemode="pixel", yanchor=LAST_OHLC[3], y0=-11.5, y1=11.5,
                   fillcolor="black", line=dict(width=0), layer="above"))
annotations.append(dict(xref="paper", yref="y", x=px(3788), y=LAST_OHLC[3],
                        text=f"{LAST_OHLC[3]:.2f}", showarrow=False, xanchor="center",
                        yanchor="middle", font=dict(family=FONT, size=18, color="white")))

annotations.append(dict(
    xref="paper", yref="paper", x=px(31), y=py(18), xanchor="left", yanchor="middle",
    showarrow=False, font=dict(family=FONT, size=18, color="black"),
    text=SYMBOL + "\u00a0\u00a0" + " ".join(f"{v:.2f}" for v in LAST_OHLC)))
shapes.append(dict(type="path", xref="paper", yref="paper", layer="above",
                   path=f"M {px(8)},{py(15)} L {px(17)},{py(15)} L {px(12.5)},{py(21)} Z",
                   fillcolor="black", line=dict(width=0)))

shapes.append(dict(type="path", xref="paper", yref="paper", layer="above",
                   path=f"M {px(2613)},{py(6)} L {px(2632)},{py(6)} L {px(2622.5)},{py(15)} Z",
                   fillcolor="#A8A8A8", line=dict(width=0)))

for dx, dy, col in [(3, 4, "rgba(0,0,0,0.18)"), (0, 0, "#E2505A")]:
    shapes.append(dict(type="line", xref="paper", yref="paper", layer="above",
                       x0=px(2677 + dx), y0=py(60 + dy), x1=px(2704 + dx), y1=py(84 + dy),
                       line=dict(color=col, width=7)))
    shapes.append(dict(type="line", xref="paper", yref="paper", layer="above",
                       x0=px(2704 + dx), y0=py(60 + dy), x1=px(2677 + dx), y1=py(84 + dy),
                       line=dict(color=col, width=7)))

cur = [(113, 727), (113, 757), (120, 751), (125, 762), (129, 760), (124, 749), (133, 749)]
shapes.append(dict(type="path", xref="paper", yref="paper", layer="above",
                   path="M " + " L ".join(f"{px(a)},{py(b)}" for a, b in cur) + " Z",
                   fillcolor="white", line=dict(color="#707070", width=1)))

shapes.append(dict(type="line", xref="paper", yref="paper", layer="above",
                   x0=px(0), x1=px(W), y0=py(0.8), y1=py(0.8),
                   line=dict(color="#A0A0A0", width=2)))
shapes.append(dict(type="line", xref="paper", yref="paper", layer="above",
                   x0=px(1), x1=px(1), y0=py(0), y1=py(1962),
                   line=dict(color="#808080", width=2)))
shapes.append(dict(type="line", xref="paper", yref="paper", layer="above",
                   x0=px(0), x1=px(W), y0=py(1990), y1=py(1990),
                   line=dict(color="#D8D8D8", width=1)))
shapes.append(dict(type="line", xref="paper", yref="paper", layer="above",
                   x0=px(3838), x1=px(3838), y0=py(0), y1=py(1990),
                   line=dict(color="#D8D8D8", width=1)))

minor_x = [v for v in range(16, 936, 16) if v not in time_label_bars]

fig.update_layout(
    width=W, height=H,
    margin=dict(l=PL, r=W - PR, t=PT, b=H - PB, pad=0),
    paper_bgcolor="white", plot_bgcolor="white", showlegend=False,
    boxgap=0.5,
    font=dict(family=FONT, size=18, color="black"),
    shapes=shapes, annotations=annotations,
    xaxis=dict(
        range=X_RANGE, tickmode="array", tickvals=time_label_bars, ticktext=time_labels,
        showgrid=True, gridcolor=GRID, griddash="3px,3px", gridwidth=1,
        ticks="outside", ticklen=4, tickcolor="black", tickwidth=1,
        showline=True, linecolor="black", linewidth=1, mirror=True,
        zeroline=False, ticklabelshift=54, ticklabelstandoff=-6,
        tickfont=dict(family=FONT, size=18, color="black"),
        rangeslider=dict(visible=False), fixedrange=True,
        minor=dict(tickmode="array", tickvals=minor_x, showgrid=True, gridcolor=GRID,
                   griddash="3px,3px", gridwidth=1, ticks=""),
    ),
    yaxis=dict(
        side="right", range=Y_RANGE, tickmode="array", tickvals=price_ticks,
        ticktext=[f"{v:.2f}" for v in price_ticks],
        showgrid=True, gridcolor=GRID, griddash="3px,3px", gridwidth=1,
        ticks="outside", ticklen=4, tickcolor="black", tickwidth=1,
        showline=True, linecolor="black", linewidth=1, mirror=True,
        zeroline=False, ticklabelstandoff=5,
        tickfont=dict(family=FONT, size=18, color="black"), fixedrange=True,
    ),
)

fig.write_html("out.html", config={"displayModeBar": False, "staticPlot": True},
               post_script="document.body.style.margin='0';document.body.style.overflow='hidden';")
